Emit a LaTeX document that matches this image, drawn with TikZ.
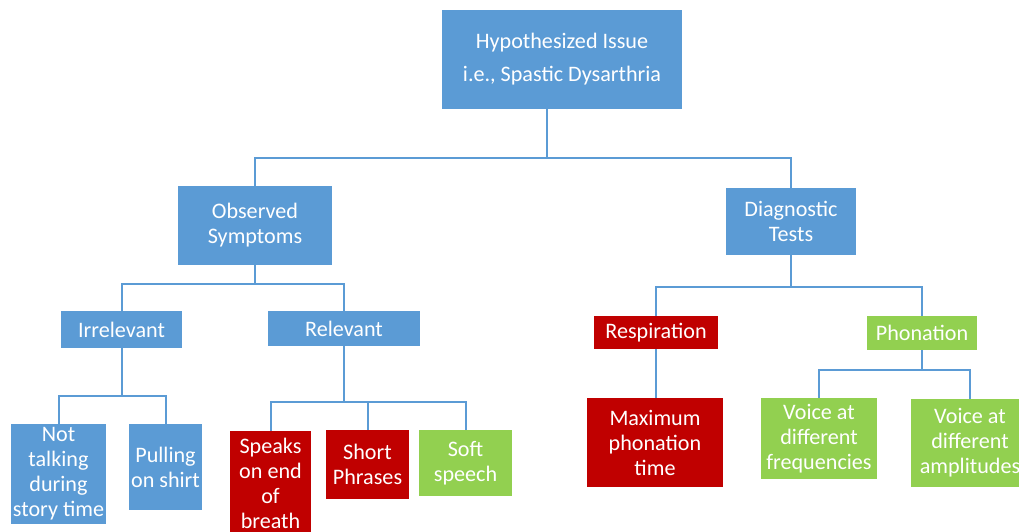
\documentclass[tikz,border=0pt]{standalone}
\usepackage{fontspec}
\setmainfont{Carlito}
\usetikzlibrary{positioning}
\definecolor{boxblue}{HTML}{5B9BD5}
\definecolor{boxred}{HTML}{C00000}
\definecolor{boxgreen}{HTML}{92D050}

\begin{document}
\begin{tikzpicture}[x=0.75pt,y=-0.75pt,
  box/.style={rectangle,inner sep=0pt,text=white,align=center,
    font=\fontsize{16.6}{18.75}\selectfont},
  bluebox/.style={box,fill=boxblue},
  redbox/.style={box,fill=boxred},
  greenbox/.style={box,fill=boxgreen},
  link/.style={draw=boxblue,line width=1.5pt}]
\useasboundingbox (0,0) rectangle (1019,531);

% top level
\node[bluebox,minimum width=180pt,minimum height=74.25pt] (hyp) at (562,59.5)
  {Hypothesized Issue\\[6pt] i.e., Spastic Dysarthria};

\node[bluebox,minimum width=115.5pt,minimum height=59.25pt] (obs) at (255,225.5)
  {Observed\\Symptoms};
\node[bluebox,minimum width=97.5pt,minimum height=50.25pt] (diag) at (791,221.5)
  {Diagnostic\\Tests};

% second level
\node[bluebox,minimum width=90.75pt,minimum height=27.75pt] (irr) at (121.5,329.5) {Irrelevant};
\node[bluebox,minimum width=114pt,minimum height=26.25pt] (rel) at (344,328.5) {Relevant};
\node[redbox,minimum width=93pt,minimum height=24.75pt] (resp) at (656,332.5) {Respiration};
\node[greenbox,minimum width=82.5pt,minimum height=25.5pt] (phon) at (922,333) {Phonation};

% leaves
\node[bluebox,minimum width=71.25pt,minimum height=75pt] (nottalk) at (58.5,474)
  {Not\\talking\\during\\story time};
\node[bluebox,minimum width=54.75pt,minimum height=64.5pt] (pull) at (165.5,467)
  {Pulling\\on shirt};
\node[redbox,minimum width=60.75pt,minimum height=78pt] (speaks) at (270.5,483)
  {Speaks\\on end\\of\\breath};
\node[redbox,minimum width=62.25pt,minimum height=51.75pt] (short) at (367.5,464.5)
  {Short\\Phrases};
\node[greenbox,minimum width=69.75pt,minimum height=49.5pt] (soft) at (465.5,463)
  {Soft\\speech};
\node[redbox,minimum width=102pt,minimum height=66.75pt] (maxph) at (655,442.5)
  {Maximum\\phonation\\time};
\node[greenbox,minimum width=87pt,minimum height=60.75pt] (freq) at (819,438.5)
  {Voice at\\different\\frequencies};
\node[greenbox,minimum width=88.5pt,minimum height=66pt] (ampl) at (970,443)
  {Voice at\\different\\amplitudes};

% junctions
\coordinate (hj) at (547,158);
\coordinate (oj) at (255,284);
\coordinate (ij) at (121.5,396);
\coordinate (rj) at (344,402);
\coordinate (dj) at (791,287);
\coordinate (pj) at (922,370);

\draw[link] (hyp.south -| hj) -- (hj);
\draw[link] (obs.north) |- (hj) -| (diag.north);

\draw[link] (obs.south) -- (oj);
\draw[link] (irr.north) |- (oj) -| (rel.north);

\draw[link] (irr.south) -- (ij);
\draw[link] (nottalk.north) |- (ij) -| (pull.north);

\draw[link] (rel.south) -- (rj);
\draw[link] (speaks.north) |- (rj) -| (soft.north);
\draw[link] (short.north) -- (short.north |- rj);

\draw[link] (diag.south) -- (dj);
\draw[link] (resp.north) |- (dj) -| (phon.north);

\draw[link] (resp.south) -- (resp.south |- maxph.north);

\draw[link] (phon.south) -- (pj);
\draw[link] (freq.north) |- (pj) -| (ampl.north);

\end{tikzpicture}
\end{document}
